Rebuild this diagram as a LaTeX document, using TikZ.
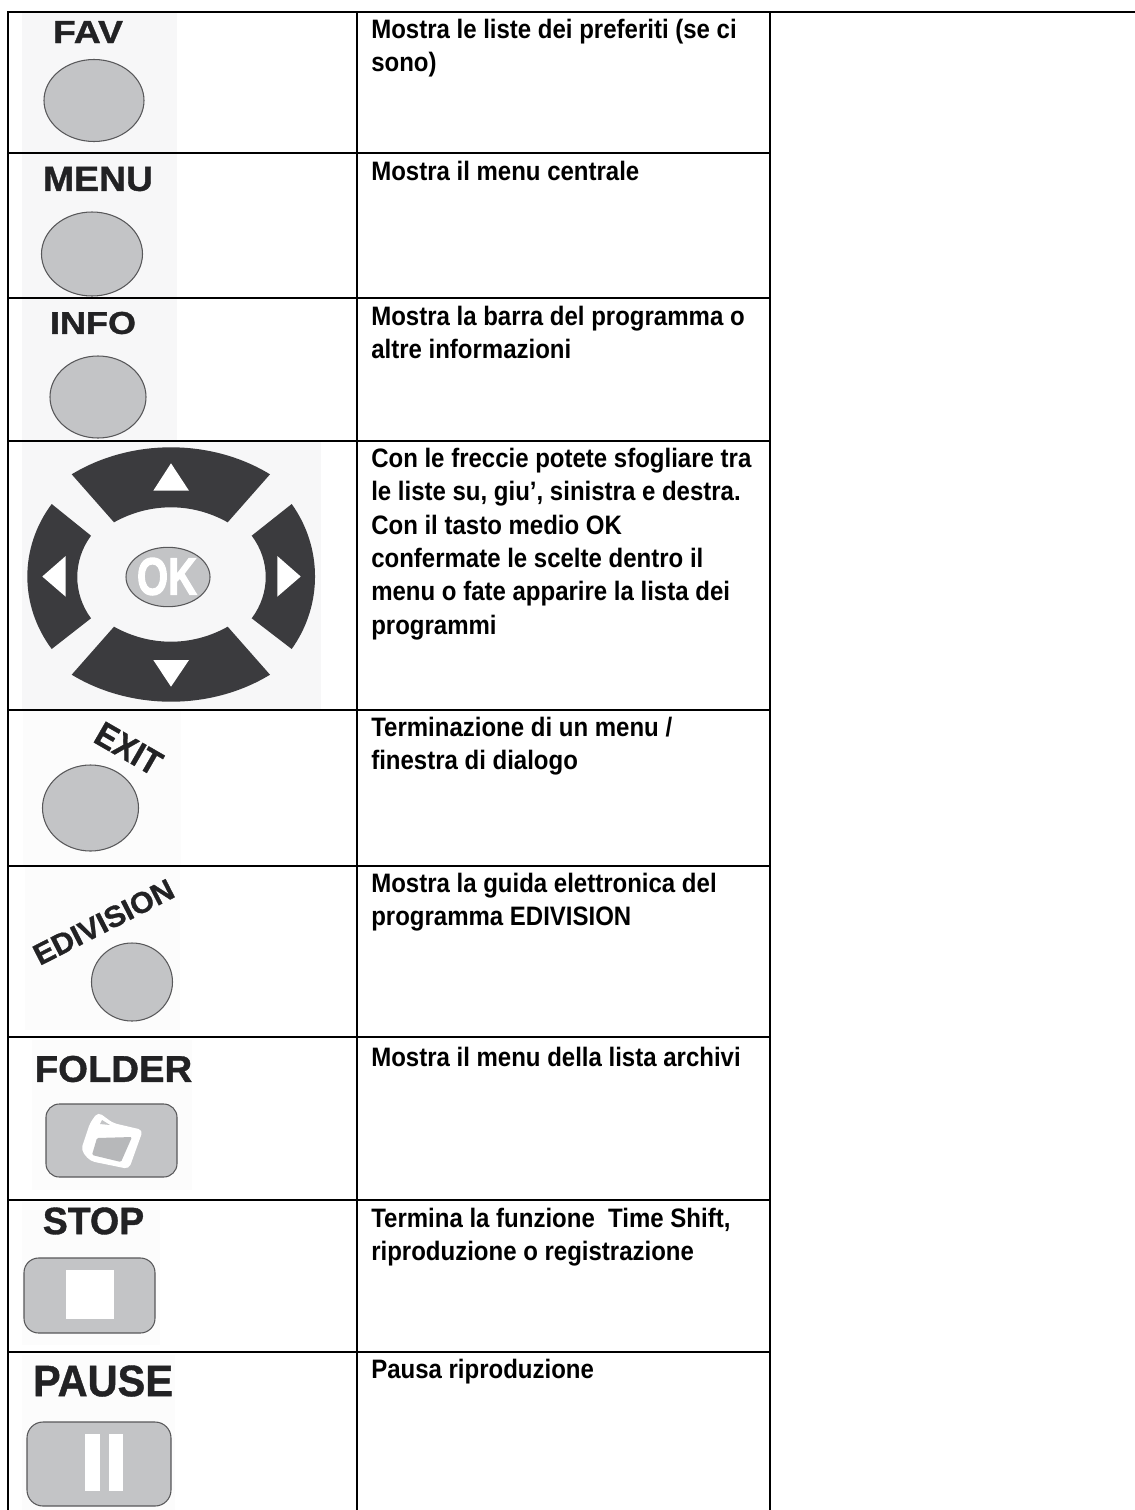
\documentclass[tikz,border=0pt]{standalone}
\usepackage{fontspec}
\setmainfont[FakeStretch=0.9]{Liberation Sans}
\newfontfamily\labfont[FakeBold=1]{Liberation Sans}
\newfontfamily\okfont[FakeBold=2.5]{Liberation Sans}
\definecolor{btn}{HTML}{C3C4C6}
\definecolor{btnline}{HTML}{58585A}
\definecolor{pad}{HTML}{3B3B3E}
\definecolor{paper}{HTML}{F7F7F8}
\definecolor{paperfaint}{HTML}{FCFCFC}
\definecolor{ink}{HTML}{222224}
\newcommand{\caplabel}[3]{\resizebox{#1pt}{#2pt}{\labfont\bfseries #3}}
\tikzset{
  rule/.style={line width=1.4pt,black},
  desc/.style={anchor=north west,inner sep=0pt,text width=300pt,align=left,
    font=\fontsize{20}{25.05}\selectfont\bfseries,execute at begin node={\spaceskip=5pt\relax\strut}},
  keylabel/.style={inner sep=0pt,text=ink},
  keybtn/.style={fill=btn,draw=btnline,line width=0.8pt},
  backing/.style={fill=paper,draw=none},
  faintback/.style={fill=paperfaint,draw=none},
  padkey/.style={fill=pad,draw=none},
  glyph/.style={fill=white,draw=none}
}
\begin{document}
\begin{tikzpicture}[x=0.75pt,y=-0.75pt]
\useasboundingbox (0,0) rectangle (1135,1510);
% image backgrounds
\fill[backing] (22,13) rectangle (177,152);
\fill[backing] (22,154) rectangle (177,297);
\fill[backing] (22,299) rectangle (177,440);
\fill[backing] (22,442) rectangle (321,709);
\fill[faintback] (23,711) rectangle (181,865);
\fill[faintback] (25,867) rectangle (180,1030);
\fill[faintback] (32,1040) rectangle (192,1190);
\fill[faintback] (22,1202) rectangle (160,1345);
\fill[faintback] (22,1355) rectangle (175,1510);
% table
\draw[rule] (7.7,1510) -- (7.7,12);
\draw[rule] (7,12) -- (1135,12);
\draw[rule] (357.3,12) -- (357.3,1510);
\draw[rule] (770,12) -- (770,1510);
\foreach \yy in {153,298,441,710,866,1037,1200,1352}{\draw[rule] (7,\yy) -- (770,\yy);}
% FAV
\node[keylabel] (lfav) at (88,32) {\caplabel{52.5}{16.5}{FAV}};
\draw[keybtn] (94,100.5) ellipse [x radius=50,y radius=41];
% MENU
\node[keylabel] (lmenu) at (98,179) {\caplabel{82.5}{18}{MENU}};
\draw[keybtn] (92,254) ellipse [x radius=50.5,y radius=42];
% INFO
\node[keylabel] (linfo) at (93,323) {\caplabel{64.5}{16.5}{INFO}};
\draw[keybtn] (98,397) ellipse [x radius=48,y radius=41];
% D-pad
\fill[padkey] (71.7,474.3) .. controls (131,438.3) and (211,438.3) .. (270,474.3) -- (227.7,522.3) .. controls (192,502.3) and (150,502.3) .. (114,522.3) -- cycle;
\fill[padkey] (71.7,674.7) .. controls (131,710.7) and (211,710.7) .. (270,674.7) -- (227.7,626.7) .. controls (192,646.7) and (150,646.7) .. (114,626.7) -- cycle;
\fill[padkey] (51.7,504) -- (91,535.7) .. controls (72.7,560.5) and (72.7,593.5) .. (91,618.3) -- (51.7,649) .. controls (19.2,605.5) and (19.2,547.5) .. (51.7,504) -- cycle;
\fill[padkey] (291.7,504) -- (251.7,535.7) .. controls (270.4,560.5) and (270.4,593.5) .. (251.7,618.3) -- (291.7,649) .. controls (322.8,605.5) and (322.8,547.5) .. (291.7,504) -- cycle;
\fill[glyph] (171,463.3) -- (153.3,490.7) -- (189,490.7) -- cycle;
\fill[glyph] (171,686.7) -- (153.3,660) -- (189,660) -- cycle;
\fill[glyph] (42.3,576.5) -- (65.7,556) -- (65.7,596.7) -- cycle;
\fill[glyph] (300.7,576.5) -- (277.3,556) -- (277.3,596.7) -- cycle;
\draw[keybtn] (168,577) ellipse [x radius=42,y radius=29.7];
\node[keylabel,text=white] (lok) at (167,576.5) {\resizebox{45pt}{27.5pt}{\okfont\bfseries OK}};
% EXIT
\node[keylabel,rotate=-30] (lexit) at (128.6,748.6) {\caplabel{53}{18}{EXIT}};
\draw[keybtn] (90.5,808) ellipse [x radius=48,y radius=43];
% EDIVISION
\node[keylabel,rotate=27] (ledi) at (103.6,922) {\caplabel{115}{15.5}{EDIVISION}};
\draw[keybtn] (132,982) ellipse [x radius=40.5,y radius=39];
% FOLDER
\node[keylabel] (lfolder) at (113.5,1069) {\caplabel{118}{19.5}{FOLDER}};
\draw[keybtn,rounded corners=10pt] (46,1104) rectangle (177,1177);
\fill[glyph,rounded corners=3.5pt] (98,1112) -- (113,1123) -- (143,1130) -- (129,1169) -- (90,1161) -- (81,1150) -- (90,1123) -- cycle;
\fill[btn!94!black,rounded corners=1pt] (97,1138) -- (132,1137) -- (121,1162) -- (92,1155) -- cycle;
\fill[btn] (100,1124) -- (102,1120) -- (110,1125) -- cycle;
% STOP
\node[keylabel] (lstop) at (93.5,1221) {\caplabel{76}{20}{STOP}};
\draw[keybtn,rounded corners=11pt] (24,1258) rectangle (155,1333);
\fill[glyph] (66,1270) rectangle (114,1319);
% PAUSE
\node[keylabel] (lpause) at (103,1381) {\caplabel{105}{23}{PAUSE}};
\draw[keybtn,rounded corners=12pt] (27,1422) rectangle (171,1506);
\fill[glyph] (85,1434) rectangle (100,1491);
\fill[glyph] (109,1434) rectangle (123,1491);
% descriptions
\node[desc] (d1) at (371,14.9) {Mostra le liste dei preferiti (se ci\\sono)};
\node[desc] (d2) at (371,156.6) {Mostra il menu centrale};
\node[desc] (d3) at (371,301.6) {Mostra la barra del programma o\\altre informazioni};
\node[desc] (d4) at (371,443.6) {Con le freccie potete sfogliare tra\\le liste su, giu’, sinistra e destra.\\Con il tasto medio OK\\confermate le scelte dentro il\\menu o fate apparire la lista dei\\programmi};
\node[desc] (d5) at (371,712.6) {Terminazione di un menu /\\finestra di dialogo};
\node[desc] (d6) at (371,868.9) {Mostra la guida elettronica del\\programma EDIVISION};
\node[desc] (d7) at (371,1042.6) {Mostra il menu della lista archivi};
\node[desc] (d8) at (371,1203.6) {Termina la funzione\ \ Time Shift,\\riproduzione o registrazione};
\node[desc] (d9) at (371,1354.6) {Pausa riproduzione};
\end{tikzpicture}
\end{document}
